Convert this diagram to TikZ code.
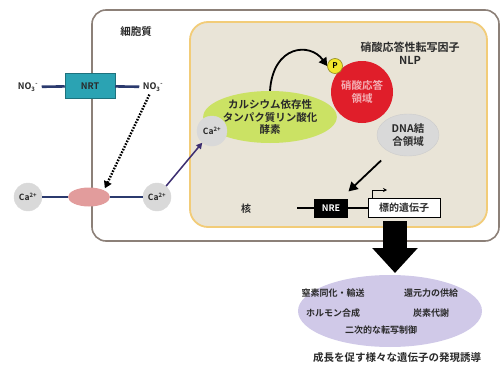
\documentclass[tikz,border=0pt]{standalone}
\usepackage{fontspec}
\setmainfont{Noto Sans CJK JP}[BoldFont={Noto Sans CJK JP Bold}]
\usetikzlibrary{arrows.meta,shapes.geometric}
\definecolor{cellline}{HTML}{8C8078}
\definecolor{nucfill}{HTML}{E9E4D7}
\definecolor{nucline}{HTML}{F2CC78}
\definecolor{redd}{HTML}{E01E2A}
\definecolor{greenn}{HTML}{CBE264}
\definecolor{grayc}{HTML}{D9D9D9}
\definecolor{yell}{HTML}{F2E62E}
\definecolor{teal1}{HTML}{2BA3B3}
\definecolor{pinkk}{HTML}{E29C9C}
\definecolor{navy1}{HTML}{2B3A6E}
\definecolor{lav}{HTML}{D0C9E8}
\definecolor{txt}{HTML}{2A2A2A}
\tikzset{
  jp/.style={font=\bfseries\fontsize{#1}{#1}\selectfont, text=txt},
  ion/.style={circle, fill=grayc, draw=white!85!black, line width=0.4pt, minimum size=28pt, inner sep=0pt, font=\bfseries\fontsize{8.5}{9}\selectfont, text=txt},
  memline/.style={navy1, line width=2.6pt},
}
\begin{document}
\begin{tikzpicture}[x=1pt,y=-1pt]
\useasboundingbox (0,0) rectangle (504,372);
% cell and nucleus
\draw[cellline, line width=1.6pt, fill=white, rounded corners=14pt] (92,10) rectangle (499,241);
\draw[nucline, line width=1.8pt, fill=nucfill, rounded corners=18pt] (190,22) rectangle (487,227);
\node[jp=10.5] (cyto) at (136,32) {細胞質};
\node[jp=11, align=center, inner sep=0pt] (nlp) at (410,53) {硝酸応答性転写因子\\[2pt]NLP};
\node[jp=10] (nuc) at (246,209) {核};
% NLP domains
\node[circle, fill=redd, minimum size=62pt, inner sep=0pt, align=center, font=\bfseries\fontsize{10.5}{13}\selectfont, text=white!65!redd] (resp) at (362,92) {硝酸応答\\領域};
\node[ellipse, fill=grayc, draw=white!80!black, minimum width=62pt, minimum height=42pt, inner sep=0pt, align=center, font=\bfseries\fontsize{10.5}{13}\selectfont, text=txt] (dna) at (408,135) {DNA結\\合領域};
\node[circle, fill=yell, draw=yell!60!black, line width=0.6pt, minimum size=15pt, inner sep=0pt, font=\bfseries\fontsize{8}{8}\selectfont] (p) at (335,66) {P};
% CDPK
\node[ellipse, fill=greenn, minimum width=116pt, minimum height=52pt, inner sep=0pt, align=center, font=\bfseries\fontsize{10.5}{12.5}\selectfont, text=txt] (cdpk) at (270,117) {カルシウム依存性\\タンパク質リン酸化\\酵素};
\node[ion, minimum size=30pt] (cain) at (212,131) {Ca\textsuperscript{2+}};
\draw[line width=1.8pt, -{Triangle[length=8pt,width=9pt]}] (cdpk.north) .. controls (273,45) and (310,42) .. (p.west);
% transporters
\node[jp=9] (no3l) at (28,87) {NO\textsubscript{3}\textsuperscript{-}};
\node[fill=teal1, draw=teal1!70!black, line width=0.5pt, minimum width=50pt, minimum height=25pt, inner sep=0pt, jp=9] (nrt) at (90,86) {NRT};
\node[jp=9] (no3r) at (153,87) {NO\textsubscript{3}\textsuperscript{-}};
\draw[memline] (no3l) -- (nrt);
\draw[memline] (nrt) -- (no3r);
\node[ion] (cal) at (28,197) {Ca\textsuperscript{2+}};
\node[ion] (car) at (157,197) {Ca\textsuperscript{2+}};
\node[ellipse, fill=pinkk, minimum width=42pt, minimum height=19pt, inner sep=0pt] (chan) at (89,197) {};
\draw[memline] (cal) -- (chan);
\draw[memline] (chan) -- (car);
\draw[black, line width=2.4pt, dash pattern=on 1.6pt off 1.4pt, -{Triangle[length=7pt,width=8pt]}, shorten >=2pt] (no3r) -- (chan.north east);
\draw[navy1!80!violet, line width=1.5pt, -{Triangle[length=6pt,width=6pt]}] (car) -- (cain);
% gene
\coordinate (lstart) at (297,208);
\node[fill=black, text=white, minimum width=34pt, minimum height=19pt, inner sep=0pt, font=\bfseries\fontsize{9}{9}\selectfont] (nre) at (331,208) {NRE};
\node[fill=white, draw=black, line width=1pt, minimum width=72pt, minimum height=19pt, inner sep=0pt, jp=10] (gene) at (404,208) {標的遺伝子};
\draw[line width=1.4pt] (lstart) -- (nre);
\draw[line width=1.4pt] (nre) -- (gene);
\coordinate (tss0) at (372,198.5);
\coordinate (tss1) at (387,190);
\draw[line width=0.9pt, -{Stealth[length=4pt,width=4pt]}] (tss0) |- (tss1);
\draw[line width=1.8pt, -{Triangle[length=9pt,width=10pt]}, shorten <=12pt, shorten >=10pt] (dna) -- (nre);
% output
\node[ellipse, fill=lav, minimum width=184pt, minimum height=72pt, inner sep=0pt] (eff) at (390,311) {};
\coordinate (bigA) at (395,221);
\coordinate (bigB) at (395,273);
\draw[line width=24pt, -{Triangle[length=25pt 0, width=44pt 0]}] (bigA) -- (bigB);
\node[jp=9] (e1) at (333,293) {窒素同化・輸送};
\node[jp=9] (e2) at (431,293) {還元力の供給};
\node[jp=9] (e3) at (333,313) {ホルモン合成};
\node[jp=9] (e4) at (431,313) {炭素代謝};
\node[jp=9] (e5) at (381,330) {二次的な転写制御};
\node[jp=10.5] (concl) at (397,358) {成長を促す様々な遺伝子の発現誘導};
\end{tikzpicture}
\end{document}
